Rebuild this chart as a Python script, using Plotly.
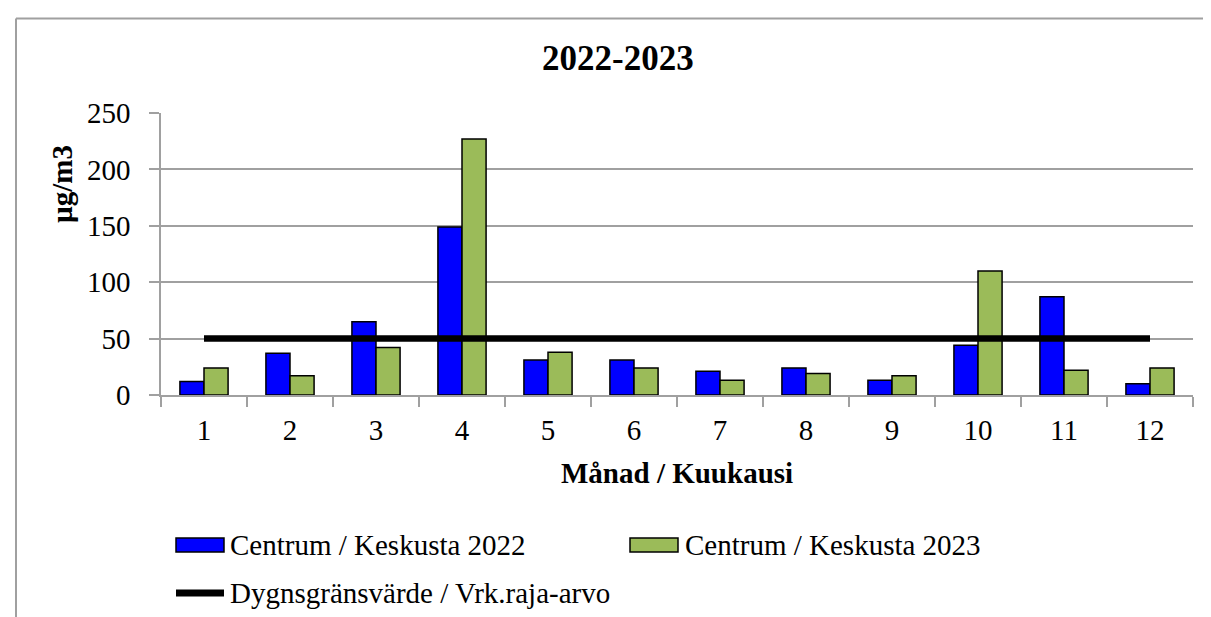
import plotly.graph_objects as go

# ---- data ----
months = ["1", "2", "3", "4", "5", "6", "7", "8", "9", "10", "11", "12"]
centrum_2022 = [12, 37, 65, 149, 31, 31, 21, 24, 13, 44, 87, 10]
centrum_2023 = [24, 17, 42, 227, 38, 24, 13, 19, 17, 110, 22, 24]
limit_value = [50] * 12
series_names = ["Centrum / Keskusta 2022", "Centrum / Keskusta 2023",
                "Dygnsgränsvärde / Vrk.raja-arvo"]
title_text = "2022-2023"
y_title = "µg/m3"
x_title = "Månad / Kuukausi"
y_ticks = [0, 50, 100, 150, 200, 250]

# ---- geometry ----
W, H = 1211, 617
L, R, T, B = 153, 1185, 105, 387
PW, PH = R - L, B - T


def px(x):
    return (x - L) / PW


def py(y):
    return (B - y) / PH


FONT = "Liberation Serif, Times New Roman, serif"
GRID = "#A0A0A0"
BLUE = "#0000FF"
GREEN = "#9BBB59"

fig = go.Figure()
fig.add_trace(go.Bar(x=months, y=centrum_2022, name=series_names[0],
                     marker=dict(color=BLUE, line=dict(color="black", width=1.5))))
fig.add_trace(go.Bar(x=months, y=centrum_2023, name=series_names[1],
                     marker=dict(color=GREEN, line=dict(color="black", width=1.5))))
fig.add_trace(go.Scatter(x=months, y=limit_value, name=series_names[2], mode="lines",
                         line=dict(color="black", width=6.5)))

shapes = [
    # outer chart frame (left and top edges)
    dict(type="line", xref="paper", yref="paper", x0=px(8), x1=px(1215),
         y0=py(10.5), y1=py(10.5), line=dict(color=GRID, width=2)),
    dict(type="line", xref="paper", yref="paper", x0=px(8), x1=px(8),
         y0=py(10.5), y1=py(625), line=dict(color=GRID, width=2)),
    # legend swatches
    dict(type="rect", xref="paper", yref="paper", x0=px(168), x1=px(216),
         y0=py(544), y1=py(530), fillcolor=BLUE, line=dict(color="black", width=1.5)),
    dict(type="rect", xref="paper", yref="paper", x0=px(622), x1=px(670),
         y0=py(544), y1=py(530), fillcolor=GREEN, line=dict(color="black", width=1.5)),
    dict(type="line", xref="paper", yref="paper", x0=px(168), x1=px(216),
         y0=py(585), y1=py(585), line=dict(color="black", width=7)),
]

annotations = [
    dict(text=f"<b>{title_text}</b>", xref="paper", yref="paper", x=px(610), y=py(50.5),
         xanchor="center", yanchor="middle", showarrow=False,
         font=dict(family=FONT, size=35, color="black")),
    dict(text=f"<b>{y_title}</b>", xref="paper", yref="paper", x=px(54), y=py(176),
         xanchor="center", yanchor="middle", showarrow=False, textangle=-90,
         font=dict(family=FONT, size=29, color="black")),
    dict(text=f"<b>{x_title}</b>", xref="paper", yref="paper", x=px(668.5), y=py(465),
         xanchor="center", yanchor="middle", showarrow=False,
         font=dict(family=FONT, size=29, color="black")),
    dict(text=series_names[0], xref="paper", yref="paper", x=px(220), y=py(537),
         xanchor="left", yanchor="middle", showarrow=False,
         font=dict(family=FONT, size=29, color="black")),
    dict(text=series_names[1], xref="paper", yref="paper", x=px(675), y=py(537),
         xanchor="left", yanchor="middle", showarrow=False,
         font=dict(family=FONT, size=29, color="black")),
    dict(text=series_names[2], xref="paper", yref="paper", x=px(220), y=py(585),
         xanchor="left", yanchor="middle", showarrow=False,
         font=dict(family=FONT, size=29, color="black")),
]

fig.update_layout(
    width=W, height=H,
    margin=dict(l=L, r=W - R, t=T, b=H - B, pad=0),
    paper_bgcolor="white", plot_bgcolor="white",
    barmode="group", bargap=0.44, bargroupgap=0,
    showlegend=False,
    font=dict(family=FONT, size=29, color="black"),
    shapes=shapes, annotations=annotations,
    xaxis=dict(type="category", tickson="boundaries", ticks="outside", ticklen=10,
               tickwidth=1.5, tickcolor=GRID, showline=True, linecolor=GRID, linewidth=1.5,
               showgrid=False, tickfont=dict(family=FONT, size=29, color="black"),
               ticklabelstandoff=8),
    yaxis=dict(range=[0, 250], tickvals=y_ticks, ticks="outside", ticklen=10,
               tickwidth=1.5, tickcolor=GRID, showline=True, linecolor=GRID, linewidth=1.5,
               showgrid=True, gridcolor=GRID, gridwidth=1.5, zeroline=False,
               tickfont=dict(family=FONT, size=29, color="black"),
               ticklabelstandoff=13),
)

fig.write_html("out.html")
